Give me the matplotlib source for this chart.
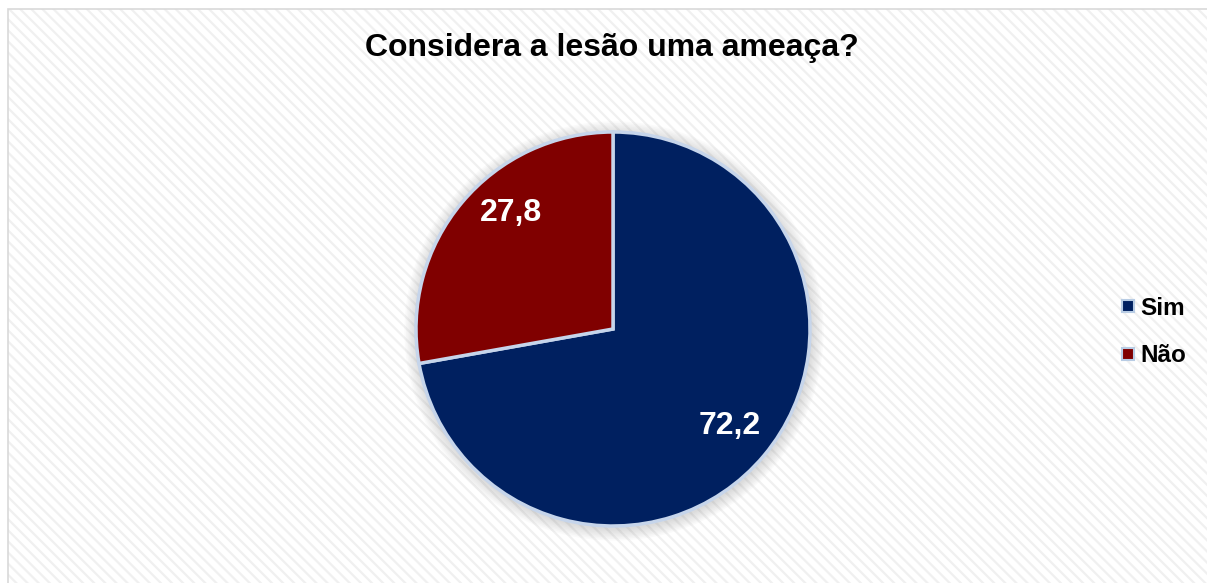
import matplotlib
matplotlib.use("Agg")
import matplotlib.pyplot as plt
from matplotlib.patches import Rectangle, Circle
from matplotlib.lines import Line2D

# ── data ──────────────────────────────────────────────────────────────────────
labels = ["Sim", "Não"]
values = [72.2, 27.8]
colors = ["#002060", "#800000"]
title = "Considera a lesão uma ameaça?"

W, H = 1207, 583
plt.rcParams["font.family"] = ["Liberation Sans", "DejaVu Sans"]
plt.rcParams["hatch.linewidth"] = 1.6
plt.rcParams["hatch.color"] = "#f0f0f0"

fig = plt.figure(figsize=(W / 100, H / 100), dpi=100)
fig.patch.set_facecolor("white")

# chart area: hatched background + light border (runs off right/bottom edge)
bg = Rectangle((8 / W, -0.05), 1.1, 1 - 9 / H + 0.05, transform=fig.transFigure,
               facecolor="white", edgecolor="#f0f0f0", hatch="\\\\\\", linewidth=0, zorder=0)
fig.patches.append(bg)
frame = Rectangle((8 / W, -0.05), 1.1, 1 - 9 / H + 0.05, transform=fig.transFigure,
                  facecolor="none", edgecolor="#d9d9d9", linewidth=1.2, zorder=1)
fig.patches.append(frame)

# pie axes centred at (613, 329) px, radius ~197 px
cx, cy, half = 613, 329, 230
ax = fig.add_axes([(cx - half) / W, (H - cy - half) / H, 2 * half / W, 2 * half / H])
ax.set_zorder(5)

# soft shadow around the pie
for i in range(8):
    ax.add_patch(Circle((0.005, -0.01), 1.0 + 0.008 * (i + 1), facecolor="#808080",
                        alpha=0.035, edgecolor="none", zorder=0, clip_on=False))

wedges, texts, autotexts = ax.pie(
    values, colors=colors, startangle=90, counterclock=False,
    autopct=lambda p: f"{p:.1f}".replace(".", ","), pctdistance=0.77,
    wedgeprops=dict(edgecolor="#c6d5eb", linewidth=2.5),
    textprops=dict(color="white", fontsize=23, fontweight="bold"),
    radius=1.0,
)
# Excel-style best-fit placement for the smaller slice
autotexts[1].set_position((-0.518, 0.589))
for w in wedges:
    w.set_zorder(2)

# pie() resets the limits, so set them afterwards
ax.set_xlim(-half / 197, half / 197)
ax.set_ylim(-half / 197, half / 197)
ax.set_aspect("equal")
ax.axis("off")

fig.text(612 / W, 1 - 48 / H, title, ha="center", va="center",
         fontsize=23, fontweight="bold", color="black")

handles = [Line2D([], [], marker="s", linestyle="none", markersize=8,
                  markerfacecolor=c, markeredgecolor="#b8cce4", markeredgewidth=1.5)
           for c in colors]
leg = fig.legend(handles, labels, loc="center left", bbox_to_anchor=(1099 / W, 1 - 332 / H),
                 frameon=False, handlelength=0.6, handletextpad=0.2, labelspacing=1.0,
                 prop=dict(size=17.5, weight="bold"))
leg.set_zorder(6)

fig.savefig("out.png", dpi=100)
